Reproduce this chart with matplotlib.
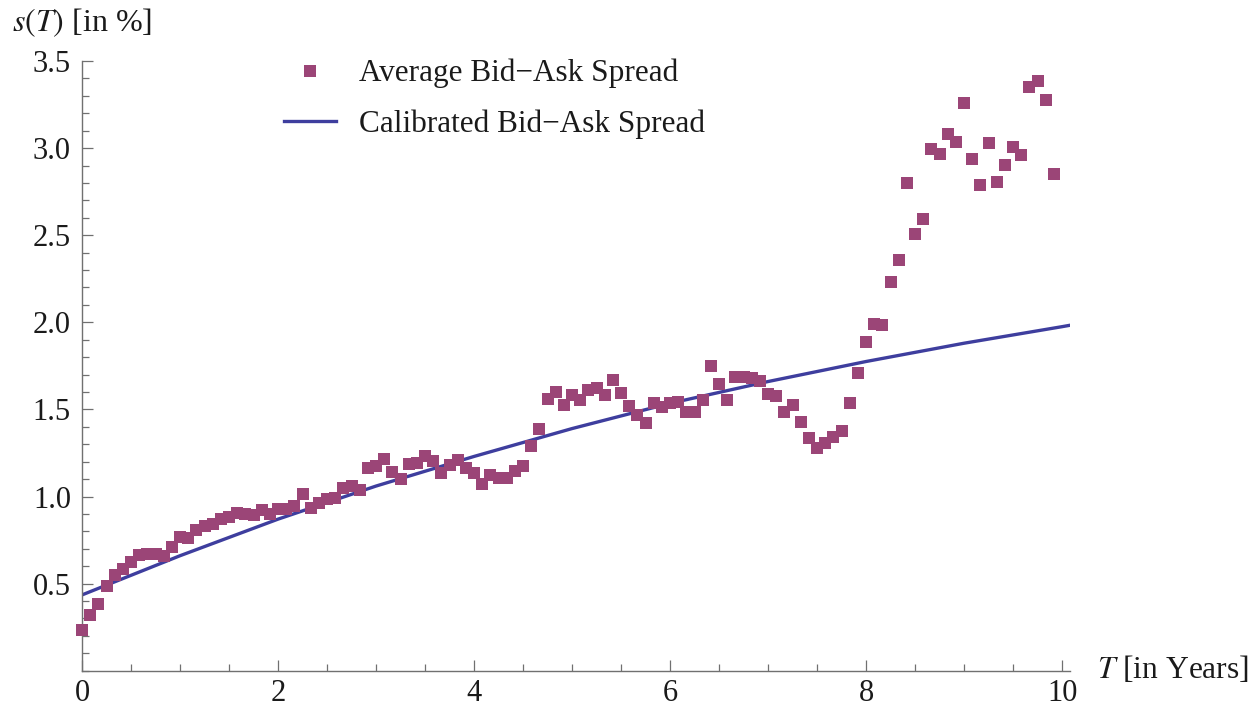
import matplotlib
matplotlib.use("agg")
import matplotlib.pyplot as plt
import numpy as np
from matplotlib.ticker import MultipleLocator

# average bid-ask spread per monthly maturity bucket, in %
avg_spread = [
    0.235, 0.321, 0.384, 0.489, 0.552, 0.584, 0.624, 0.667, 0.669, 0.669,
    0.660, 0.710, 0.767, 0.760, 0.806, 0.833, 0.840, 0.869, 0.880, 0.907,
    0.901, 0.892, 0.924, 0.897, 0.926, 0.930, 0.947, 1.016, 0.936, 0.962,
    0.985, 0.991, 1.050, 1.062, 1.039, 1.165, 1.174, 1.218, 1.142, 1.102,
    1.188, 1.191, 1.230, 1.203, 1.134, 1.182, 1.207, 1.163, 1.134, 1.073,
    1.125, 1.105, 1.105, 1.144, 1.176, 1.289, 1.386, 1.560, 1.602, 1.527,
    1.585, 1.556, 1.613, 1.621, 1.581, 1.669, 1.596, 1.522, 1.470, 1.424,
    1.535, 1.512, 1.539, 1.545, 1.487, 1.483, 1.552, 1.747, 1.644, 1.556,
    1.686, 1.684, 1.680, 1.665, 1.589, 1.575, 1.487, 1.527, 1.430, 1.335,
    1.279, 1.308, 1.344, 1.375, 1.537, 1.709, 1.887, 1.990, 1.986, 2.230,
    2.356, 2.801, 2.509, 2.593, 2.995, 2.967, 3.080, 3.035, 3.259, 2.940,
    2.791, 3.028, 2.806, 2.904, 3.005, 2.963, 3.353, 3.385, 3.278, 2.852,
]
months = np.arange(len(avg_spread))
maturity = months / 12.0

# calibrated curve
calib_T = [0, 1, 2, 3, 4, 5, 6, 7, 8, 9, 10, 10.08]
calib_spread = [0.435, 0.66, 0.87, 1.06, 1.23, 1.39, 1.535, 1.66, 1.775,
                1.88, 1.975, 1.983]

x_major = [0, 2, 4, 6, 8, 10]
y_major = [0.5, 1.0, 1.5, 2.0, 2.5, 3.0, 3.5]

plt.rcParams["font.family"] = ["Liberation Serif", "DejaVu Serif"]
plt.rcParams["mathtext.fontset"] = "stix"

W, H = 1252, 708
fig = plt.figure(figsize=(W / 100, H / 100), dpi=100)
x0, x1, y_bottom, y_top = 82, 1070, 670.7, 61
ax = fig.add_axes([x0 / W, (H - y_bottom) / H, (x1 - x0) / W,
                   (y_bottom - y_top) / H])

marker_color = "#9b4577"
line_color = "#3e3e9e"
axis_color = "#707070"
text_color = "#1a1a1a"

ax.plot(maturity, avg_spread, "s", color=marker_color, ms=8.2, mew=0,
        label="Average Bid\u2212Ask Spread", clip_on=False, zorder=3)
ax.plot(calib_T, calib_spread, "-", color=line_color, lw=2.4,
        label="Calibrated Bid\u2212Ask Spread", zorder=2)

ax.set_xlim(0, 10.08)
ax.set_ylim(0, 3.5)
ax.set_xticks(x_major)
ax.set_yticks(y_major)
ax.set_yticklabels([f"{v:.1f}" for v in y_major])
ax.xaxis.set_minor_locator(MultipleLocator(0.5))
ax.yaxis.set_minor_locator(MultipleLocator(0.1))

for side in ("top", "right"):
    ax.spines[side].set_visible(False)
for side in ("left", "bottom"):
    ax.spines[side].set_color(axis_color)
    ax.spines[side].set_linewidth(1.0)

ax.tick_params(which="both", direction="in", color=axis_color, width=0.9,
               labelsize=22, labelcolor=text_color)
ax.tick_params(which="major", length=8)
ax.tick_params(which="minor", length=5)
ax.tick_params(axis="x", pad=6)
ax.tick_params(axis="y", pad=8)

fig.text(12 / W, 1 - 23 / H, "$s(T)$ [in %]", fontsize=23,
         ha="left", va="center", color=text_color)
fig.text(1097 / W, 1 - 669 / H, "$T$ [in Years]", fontsize=22.7,
         ha="left", va="center", color=text_color)

ax.legend(loc="upper left", bbox_to_anchor=(284 / W, 1 - 59 / H),
          bbox_transform=fig.transFigure, frameon=False, fontsize=22.5,
          numpoints=1, handlelength=1.66, handletextpad=0.74,
          labelspacing=0.68, borderaxespad=0, borderpad=0,
          labelcolor=text_color)

fig.savefig("out.png", dpi=100)
